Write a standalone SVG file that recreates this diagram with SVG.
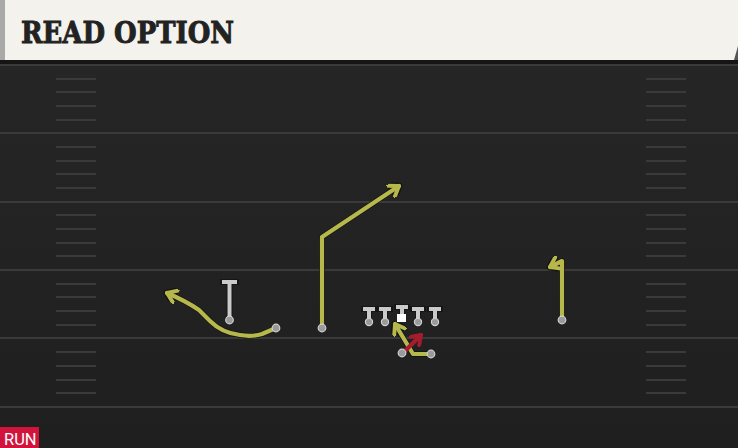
<svg xmlns="http://www.w3.org/2000/svg" width="738" height="448" viewBox="0 0 738 448">
<defs>
<linearGradient id="fieldg" x1="0" y1="0" x2="0" y2="1">
<stop offset="0" stop-color="#272727"/>
<stop offset="1" stop-color="#1f1f1f"/>
</linearGradient>
<marker id="ay" viewBox="0 0 10 10" refX="7" refY="5" markerWidth="3.6" markerHeight="3.6" orient="auto" markerUnits="strokeWidth">
<path d="M1,0.8 L7,5 L1,9.2" fill="none" stroke="#b7b84b" stroke-width="2.6" stroke-linecap="round" stroke-linejoin="round"/>
</marker>
<marker id="ao" viewBox="0 0 10 10" refX="7" refY="5" markerWidth="2.75" markerHeight="2.75" orient="auto" markerUnits="strokeWidth">
<path d="M1,0.8 L7,5 L1,9.2" fill="none" stroke="#121212" stroke-width="4.4" stroke-linecap="round" stroke-linejoin="round"/>
</marker>
<marker id="ar" viewBox="0 0 10 10" refX="7" refY="5" markerWidth="3.6" markerHeight="3.6" orient="auto" markerUnits="strokeWidth">
<path d="M1,0.8 L7,5 L1,9.2" fill="none" stroke="#a51d2d" stroke-width="2.6" stroke-linecap="round" stroke-linejoin="round"/>
</marker>
</defs>
<style>
.yl{stroke:#3a3a3a;stroke-width:2}
.hm{stroke:#3a3a3a;stroke-width:2}
.route{fill:none;stroke:#b7b84b;stroke-width:4.2;stroke-linejoin:round;stroke-linecap:round}
.outline{fill:none;stroke:#121212;stroke-width:5.5;stroke-linejoin:round;stroke-linecap:round}
.tee{stroke:#cacaca;stroke-width:4;stroke-linecap:butt;fill:none}
.teeo{stroke:#151515;stroke-width:6;stroke-linecap:square;fill:none}
.dot{fill:#9a9a9a;stroke:#d0d0d0;stroke-width:1.2}
.title{font-family:"DejaVu Serif",serif;font-weight:bold;font-size:29px;fill:#222222;stroke:#222222;stroke-width:0.9}
</style>
<rect x="0" y="0" width="738" height="448" fill="url(#fieldg)"/>
<g id="header">
<rect x="0" y="0" width="738" height="60" fill="#f4f2ec"/>
<rect x="0" y="0" width="5" height="60" fill="#a9a9a9"/>
<polygon points="734,60 738,46 738,60" fill="#555"/>
<rect x="0" y="60" width="738" height="4" fill="#151515"/>
<text class="title" x="21" y="43" textLength="213" lengthAdjust="spacingAndGlyphs">READ OPTION</text>
</g>
<g id="field">
<line class="yl" x1="0" y1="65" x2="738" y2="65"/>
<line class="yl" x1="0" y1="133" x2="738" y2="133"/>
<line class="yl" x1="0" y1="202" x2="738" y2="202"/>
<line class="yl" x1="0" y1="270" x2="738" y2="270"/>
<line class="yl" x1="0" y1="338" x2="738" y2="338"/>
<line class="yl" x1="0" y1="407" x2="738" y2="407"/>
<g id="hashes">
<path class="hm" d="M56,79H96M56,92H96M56,106H96M56,120H96M56,147H96M56,161H96M56,174H96M56,188H96M56,215H96M56,229H96M56,243H96M56,256H96M56,284H96M56,297H96M56,311H96M56,325H96M56,352H96M56,366H96M56,380H96M56,393H96"/>
<path class="hm" d="M646,79H686M646,92H686M646,106H686M646,120H686M646,147H686M646,161H686M646,174H686M646,188H686M646,215H686M646,229H686M646,243H686M646,256H686M646,284H686M646,297H686M646,311H686M646,325H686M646,352H686M646,366H686M646,380H686M646,393H686"/>
</g>
</g>
<g id="connectors">
<path class="outline" d="M276,328 L262,334 Q252,337 240,335 Q222,333 210,321 L199,310 Q186,301 167,293" marker-end="url(#ao)"/>
<path class="route" d="M276,328 L262,334 Q252,337 240,335 Q222,333 210,321 L199,310 Q186,301 167,293" marker-end="url(#ay)"/>
<path class="outline" d="M322,328 L322,237 L399,186" marker-end="url(#ao)"/>
<path class="route" d="M322,328 L322,237 L399,186" marker-end="url(#ay)"/>
<path class="outline" d="M562,320 L562,261 L550,267" marker-end="url(#ao)"/>
<path class="route" d="M562,320 L562,261 L550,267" marker-end="url(#ay)"/>
<path class="outline" d="M431,354 L413,354 L395,324" marker-end="url(#ao)"/>
<path class="route" d="M431,354 L413,354 L395,324" marker-end="url(#ay)"/>
<path d="M403,353 L421,335" fill="none" stroke="#a51d2d" stroke-width="4.2" stroke-linecap="round" marker-end="url(#ar)"/>
</g>
<g id="wr-left">
<path class="teeo" d="M223,282H236M229.5,282V319"/>
<path class="tee" d="M222,282H237M229.5,282V319"/>
<circle class="dot" cx="229.5" cy="320" r="3.8"/>
</g>
<g id="wr-left-route-start"><circle class="dot" cx="276" cy="328" r="3.8"/></g>
<g id="wr-slot"><circle class="dot" cx="322" cy="328" r="3.8"/></g>
<g id="wr-right"><circle class="dot" cx="562" cy="320" r="3.8"/></g>
<g id="lt"><path class="teeo" d="M364,309H374M369,309V321"/><path class="tee" d="M363,309H375M369,309V321"/><circle class="dot" cx="369" cy="322" r="3.6"/></g>
<g id="lg"><path class="teeo" d="M380,309H390M385,309V321"/><path class="tee" d="M379,309H391M385,309V321"/><circle class="dot" cx="385" cy="322" r="3.6"/></g>
<g id="c"><path class="teeo" d="M397,307H407M402,307V317"/><path class="tee" d="M396,307H408M402,307V317"/><rect x="397" y="314" width="9" height="8" fill="#ffffff"/></g>
<g id="rg"><path class="teeo" d="M413,309H423M418,309V321"/><path class="tee" d="M412,309H424M418,309V321"/><circle class="dot" cx="418" cy="322" r="3.6"/></g>
<g id="rt"><path class="teeo" d="M430,309H440M435,309V321"/><path class="tee" d="M429,309H441M435,309V321"/><circle class="dot" cx="435" cy="322" r="3.6"/></g>
<g id="qb"><circle class="dot" cx="402" cy="353" r="3.8"/></g>
<g id="rb"><circle class="dot" cx="431" cy="354" r="3.8"/></g>
<g id="run-label">
<rect x="0" y="427" width="39" height="21" fill="#d2143c"/>
<text x="4" y="445" font-family="Roboto, 'Liberation Sans', sans-serif" font-size="16.5" fill="#ffffff">RUN</text>
</g>
</svg>
